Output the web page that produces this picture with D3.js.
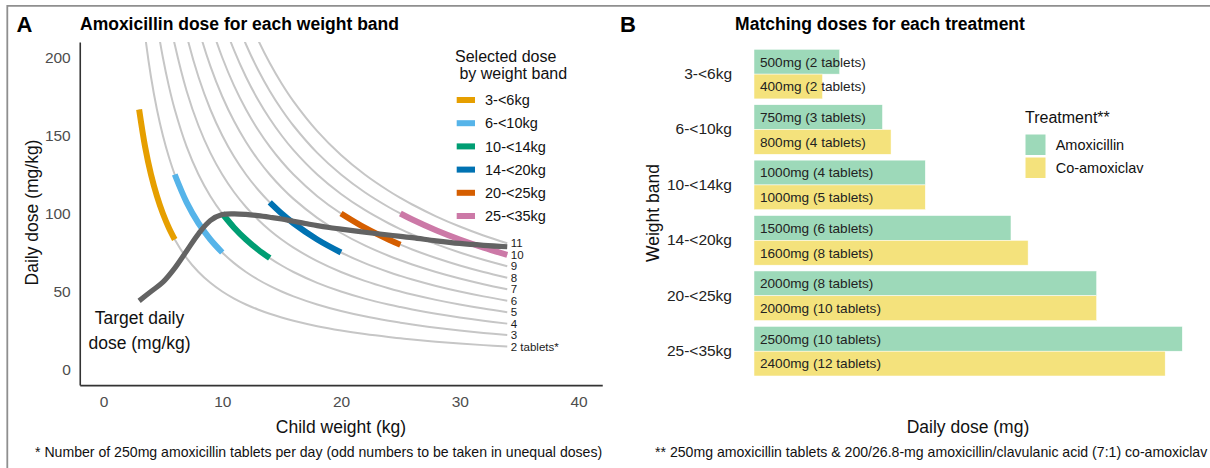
<!DOCTYPE html>
<html>
<head>
<meta charset="utf-8">
<script src="https://cdn.jsdelivr.net/npm/d3@7"></script>
<style>
  html, body { margin: 0; padding: 0; background: #fff; }
  svg { display: block; font-family: "Liberation Sans", Arial, sans-serif; }
</style>
</head>
<body>
<svg id="chart" width="1210" height="468"></svg>
<script>
// ---------- DATA ----------
const tabletMg = 250;                                  // mg per amoxicillin tablet
const tabletCounts = [2, 3, 4, 5, 6, 7, 8, 9, 10, 11]; // tablets per day (grey curves)
const curveWeights = [3, 3.5, 4, 4.5, 5, 5.5, 6, 7, 8, 9, 10, 11, 12, 13, 14, 15, 16, 18, 20, 22, 24, 25, 26, 28, 30, 32, 34];

const bandLabels   = ["3-<6kg", "6-<10kg", "10-<14kg", "14-<20kg", "20-<25kg", "25-<35kg"];
const bandFrom     = [3, 6, 10, 14, 20, 25];
const bandTo       = [6, 10, 14, 20, 25, 34];
const bandColors   = ["#E69F00", "#56B4E9", "#009E73", "#0072B2", "#D55E00", "#CC79A7"];

const amoxMg       = [500, 750, 1000, 1500, 2000, 2500];
const amoxTablets  = [2, 3, 4, 6, 8, 10];
const coamoxMg     = [400, 800, 1000, 1600, 2000, 2400];
const coamoxTablets= [2, 4, 5, 8, 10, 12];

const treatments   = ["Amoxicillin", "Co-amoxiclav"];
const treatColors  = ["#9DD9B9", "#F4E27C"];

const targetWeights = [3, 4, 5, 6, 7, 8, 9, 10, 11, 12, 13, 14, 15, 16, 17, 18, 19, 20, 22, 24, 26, 28, 30, 32, 34];
const targetDose    = [44, 50, 56, 65, 76, 87, 95.5, 99.3, 99.8, 99.4, 98.6, 97.6, 96.5, 95, 93.6, 92.2, 91, 90, 88, 86.2, 84.5, 82.5, 80.8, 79.6, 78.7];

const xTicksA = [0, 10, 20, 30, 40];
const yTicksA = [0, 50, 100, 150, 200];

// ---------- SETUP ----------
const svg = d3.select("#chart");
svg.append("rect").attr("width", 1210).attr("height", 468).attr("fill", "#fff");
// outer frame (top + left)
svg.append("path").attr("d", "M7.3,468V5.8H1210").attr("fill", "none")
  .attr("stroke", "#8f8f8f").attr("stroke-width", 1.8);

// ---------- PANEL A ----------
const xA = d3.scaleLinear().domain([-2, 42]).range([79.75, 602.25]);
const yA = d3.scaleLinear().domain([-10, 210]).range([385.1, 41.9]);

svg.append("clipPath").attr("id", "clipA").append("rect")
  .attr("x", 79.75).attr("y", 41.9).attr("width", 602.25 - 79.75).attr("height", 385.1 - 41.9);

const gA = svg.append("g").attr("clip-path", "url(#clipA)");
const lineA = d3.line().x(d => xA(d[0])).y(d => yA(d[1])).curve(d3.curveCatmullRom);

// grey tablet curves
tabletCounts.forEach(n => {
  gA.append("path")
    .attr("d", lineA(curveWeights.map(w => [w, n * tabletMg / w])))
    .attr("fill", "none").attr("stroke", "#c6c6c6").attr("stroke-width", 2);
});

// coloured selected-dose segments
bandLabels.forEach((b, i) => {
  const ws = [bandFrom[i], ...curveWeights.filter(w => w > bandFrom[i] && w < bandTo[i]), bandTo[i]];
  gA.append("path")
    .attr("d", lineA(ws.map(w => [w, amoxTablets[i] * tabletMg / w])))
    .attr("fill", "none").attr("stroke", bandColors[i]).attr("stroke-width", 6)
    .attr("stroke-linecap", "butt");
});

// target daily dose line
gA.append("path")
  .attr("d", d3.line().x((d, i) => xA(targetWeights[i])).y(d => yA(d)).curve(d3.curveCatmullRom)(targetDose))
  .attr("fill", "none").attr("stroke", "#636363").attr("stroke-width", 5.2)
  .attr("stroke-linejoin", "round");

// curve labels
const lastW = curveWeights[curveWeights.length - 1];
svg.append("g").selectAll("text").data(tabletCounts).join("text")
  .attr("x", xA(lastW) + 3.5)
  .attr("y", n => yA(n * tabletMg / lastW))
  .attr("dy", "0.36em")
  .attr("font-size", 11.5).attr("fill", "#1a1a1a")
  .text(n => n === 2 ? "2 tablets*" : String(n));

// axes
const axYA = svg.append("g").attr("transform", `translate(${xA(-2)},0)`)
  .call(d3.axisLeft(yA).tickValues(yTicksA).tickSize(0).tickPadding(9));
const axXA = svg.append("g").attr("transform", `translate(0,${yA(-10)})`)
  .call(d3.axisBottom(xA).tickValues(xTicksA).tickSize(0).tickPadding(8));
[axYA, axXA].forEach(ax => {
  ax.select(".domain").attr("stroke", "#333").attr("stroke-width", 1.6);
  ax.selectAll("text").attr("font-size", 15.5).attr("fill", "#4d4d4d")
    .attr("font-family", "Liberation Sans, Arial, sans-serif");
});
axXA.selectAll("text").attr("dy", "0.9em");

// titles A
svg.append("text").attr("x", 16.5).attr("y", 31.7).attr("font-size", 22).attr("font-weight", "bold").text("A");
svg.append("text").attr("x", 80).attr("y", 30).attr("font-size", 17.5).attr("font-weight", "bold").text("Amoxicillin dose for each weight band");
svg.append("text").attr("transform", "translate(38,212.5) rotate(-90)").attr("text-anchor", "middle")
  .attr("font-size", 17.5).attr("fill", "#111").text("Daily dose (mg/kg)");
svg.append("text").attr("x", 341).attr("y", 432.5).attr("text-anchor", "middle")
  .attr("font-size", 17.5).attr("fill", "#111").text("Child weight (kg)");
svg.append("text").attr("x", 139.5).attr("y", 323.5).attr("text-anchor", "middle")
  .attr("font-size", 17.5).attr("fill", "#111").text("Target daily");
svg.append("text").attr("x", 139.5).attr("y", 349).attr("text-anchor", "middle")
  .attr("font-size", 17.5).attr("fill", "#111").text("dose (mg/kg)");
svg.append("text").attr("x", 35).attr("y", 456.5).attr("font-size", 14.1).attr("fill", "#111")
  .text("* Number of 250mg amoxicillin tablets per day (odd numbers to be taken in unequal doses)");

// legend A
svg.append("text").attr("x", 455).attr("y", 61.5).attr("font-size", 16).attr("fill", "#111").text("Selected dose");
svg.append("text").attr("x", 455).attr("y", 78.5).attr("font-size", 16).attr("fill", "#111").text("\u00a0by weight band");
const legA = svg.append("g").selectAll("g").data(bandLabels).join("g")
  .attr("transform", (d, i) => `translate(0,${100 + i * 23.2})`);
legA.append("rect").attr("x", 456.7).attr("y", -3).attr("width", 18.3).attr("height", 6)
  .attr("fill", (d, i) => bandColors[i]);
legA.append("text").attr("x", 485).attr("y", 0).attr("dy", "0.36em")
  .attr("font-size", 14.5).attr("fill", "#111").text(d => d);

// ---------- PANEL B ----------
const xB = d3.scaleLinear().domain([0, 2500]).range([754, 1182.3]);
const yB = d3.scaleBand().domain(bandLabels).range([46.4, 378.9]).paddingInner(0.105).paddingOuter(0.0525);
const ySub = d3.scaleBand().domain(treatments).range([0, yB.bandwidth()]);

const barRows = [];
bandLabels.forEach((b, i) => {
  barRows.push({ band: b, t: treatments[0], mg: amoxMg[i], tabs: amoxTablets[i], c: treatColors[0] });
  barRows.push({ band: b, t: treatments[1], mg: coamoxMg[i], tabs: coamoxTablets[i], c: treatColors[1] });
});

const gB = svg.append("g");
gB.selectAll("rect").data(barRows).join("rect")
  .attr("x", xB(0)).attr("y", d => yB(d.band) + ySub(d.t))
  .attr("width", d => xB(d.mg) - xB(0)).attr("height", ySub.bandwidth())
  .attr("fill", d => d.c).attr("stroke", "#fff").attr("stroke-width", 0.5);
gB.selectAll("text").data(barRows).join("text")
  .attr("x", xB(0) + 6).attr("y", d => yB(d.band) + ySub(d.t) + ySub.bandwidth() / 2)
  .attr("dy", "0.36em").attr("font-size", 13.6).attr("fill", "#222")
  .text(d => `${d.mg}mg (${d.tabs} tablets)`);

const axYB = svg.append("g").attr("transform", "translate(742,0)")
  .call(d3.axisLeft(yB).tickSize(0).tickPadding(10));
axYB.select(".domain").remove();
axYB.selectAll("text").attr("font-size", 15.5).attr("fill", "#222")
  .attr("font-family", "Liberation Sans, Arial, sans-serif");

svg.append("text").attr("x", 620).attr("y", 31.7).attr("font-size", 22).attr("font-weight", "bold").text("B");
svg.append("text").attr("x", 880).attr("y", 30).attr("text-anchor", "middle").attr("font-size", 17.5)
  .attr("font-weight", "bold").text("Matching doses for each treatment");
svg.append("text").attr("transform", "translate(659,213) rotate(-90)").attr("text-anchor", "middle")
  .attr("font-size", 17.5).attr("fill", "#111").text("Weight band");
svg.append("text").attr("x", 968).attr("y", 432.5).attr("text-anchor", "middle")
  .attr("font-size", 17.5).attr("fill", "#111").text("Daily dose (mg)");
svg.append("text").attr("x", 655).attr("y", 456.5).attr("font-size", 14.1).attr("fill", "#111")
  .text("** 250mg amoxicillin tablets & 200/26.8-mg amoxicillin/clavulanic acid (7:1) co-amoxiclav");

// legend B
svg.append("text").attr("x", 1025).attr("y", 122.8).attr("font-size", 16).attr("fill", "#111").text("Treatment**");
const legB = svg.append("g").selectAll("g").data(treatments).join("g")
  .attr("transform", (d, i) => `translate(0,${134 + i * 23})`);
legB.append("rect").attr("x", 1025).attr("y", 0).attr("width", 21).attr("height", 21.5)
  .attr("fill", (d, i) => treatColors[i]).attr("stroke", "#fff").attr("stroke-width", 1);
legB.append("text").attr("x", 1055.7).attr("y", 11).attr("dy", "0.36em")
  .attr("font-size", 14.5).attr("fill", "#111").text(d => d);
</script>
</body>
</html>
